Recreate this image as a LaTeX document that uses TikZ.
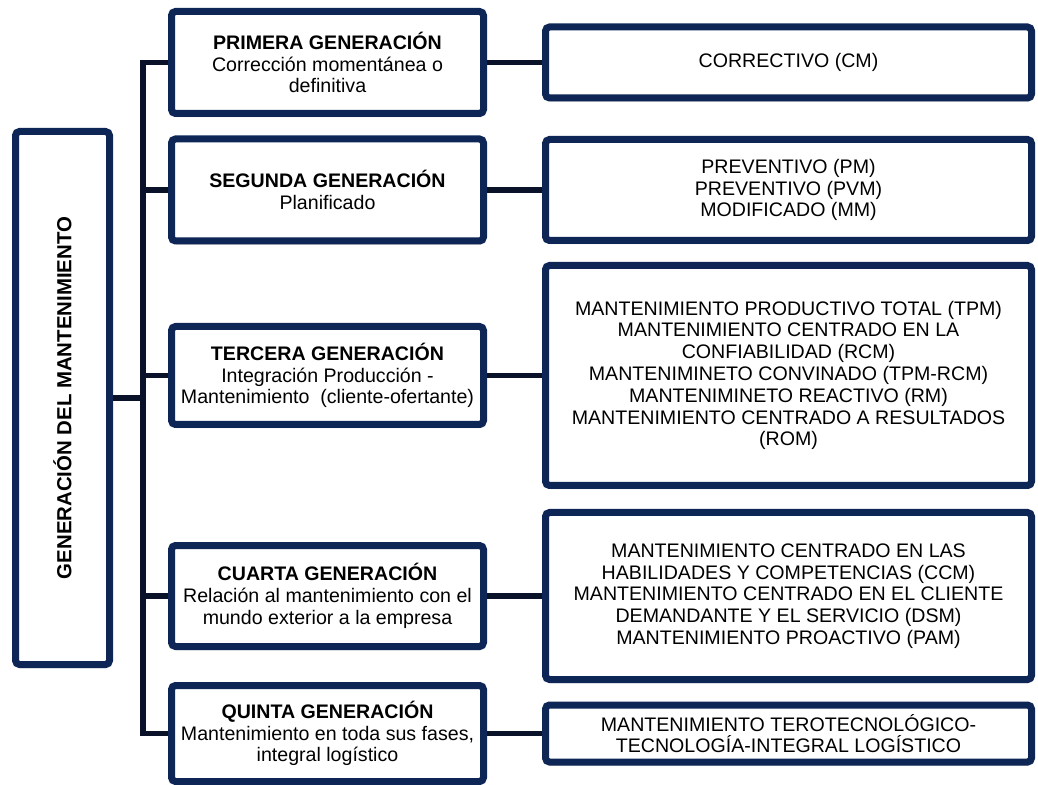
\documentclass[tikz,border=0pt]{standalone}
\usepackage{fontspec}
\setmainfont{Liberation Sans}
\usetikzlibrary{positioning, shadows, calc}

\definecolor{genblue}{RGB}{14,38,86}
\definecolor{linkblue}{RGB}{10,18,42}

\begin{document}
\begin{tikzpicture}[
        x=0.5pt, y=-0.5pt,
        font=\fontsize{9.8}{10.9}\selectfont,
        node distance=27.5pt,
        framebox/.style={draw=genblue, line width=3.5pt, rounded corners=2pt, fill=white, align=center, inner sep=2pt,
            drop shadow={shadow xshift=0.6pt, shadow yshift=-1.8pt, opacity=0.3, fill=black!70}},
        rootbox/.style={framebox, minimum width=47pt, minimum height=266.5pt},
        genbox/.style={framebox, minimum width=156pt, minimum height=51pt},
        modbox/.style={framebox, minimum width=243pt},
        link/.style={draw=linkblue, line width=2.6pt}
    ]
    \useasboundingbox (0,0) rectangle (1038,785);

    % Left: title
    \node[rootbox] (root) at (62.5,398) {\rotatebox{90}{\bfseries\fontsize{10.2}{12}\selectfont GENERACIÓN DEL MANTENIMIENTO}};

    % Middle: generations
    \node[genbox] (gen1) at (327.5,62.5) {\textbf{PRIMERA GENERACIÓN}\\ Corrección momentánea o\\ definitiva};
    \node[genbox] (gen2) at (327.5,190) {\textbf{SEGUNDA GENERACIÓN}\\ Planificado};
    \node[genbox, minimum height=49pt] (gen3) at (327.5,375.5) {\textbf{TERCERA GENERACIÓN}\\ Integración Producción -\\ Mantenimiento~~(cliente-ofertante)};
    \node[genbox, minimum height=50.5pt] (gen4) at (327.5,596) {\textbf{CUARTA GENERACIÓN}\\ Relación al mantenimiento con el\\ mundo exterior a la empresa};
    \node[genbox, minimum height=48pt] (gen5) at (327.5,733.5) {\textbf{QUINTA GENERACIÓN}\\ Mantenimiento en toda sus fases,\\ integral logístico};

    % Right: maintenance types
    \node[modbox, minimum height=35.5pt, right=of gen1] (mod1) {CORRECTIVO (CM)};
    \node[modbox, minimum height=50.5pt, right=of gen2] (mod2) {PREVENTIVO (PM)\\ PREVENTIVO (PVM)\\ MODIFICADO (MM)};
    \node[modbox, minimum height=110pt, right=of gen3] (mod3) {MANTENIMIENTO PRODUCTIVO TOTAL (TPM)\\ MANTENIMIENTO CENTRADO EN LA\\ CONFIABILIDAD (RCM)\\ MANTENIMINETO CONVINADO (TPM-RCM)\\ MANTENIMINETO REACTIVO (RM)\\ MANTENIMIENTO CENTRADO A RESULTADOS\\ (ROM)};
    \node[modbox, minimum height=83.5pt, right=of gen4] (mod4) {MANTENIMIENTO CENTRADO EN LAS\\ HABILIDADES Y COMPETENCIAS (CCM)\\ MANTENIMIENTO CENTRADO EN EL CLIENTE\\ DEMANDANTE Y EL SERVICIO (DSM)\\ MANTENIMIENTO PROACTIVO (PAM)};
    \node[modbox, minimum height=28.5pt, right=of gen5] (mod5) {MANTENIMIENTO TEROTECNOLÓGICO-\\ TECNOLOGÍA-INTEGRAL LOGÍSTICO};

    % Connectors
    \coordinate (bus) at (143,0);
    \draw[link] (gen1.west) -- (gen1.west -| bus) |- (gen5.west);
    \foreach \n in {2,3,4}
        \draw[link] (gen\n.west) -- (gen\n.west -| bus);
    \draw[link] (root.east) -- (root.east -| bus);
    \foreach \n in {1,...,5}
        \draw[link] (gen\n.east) -- (mod\n.west |- gen\n.east);

\end{tikzpicture}
\end{document}
